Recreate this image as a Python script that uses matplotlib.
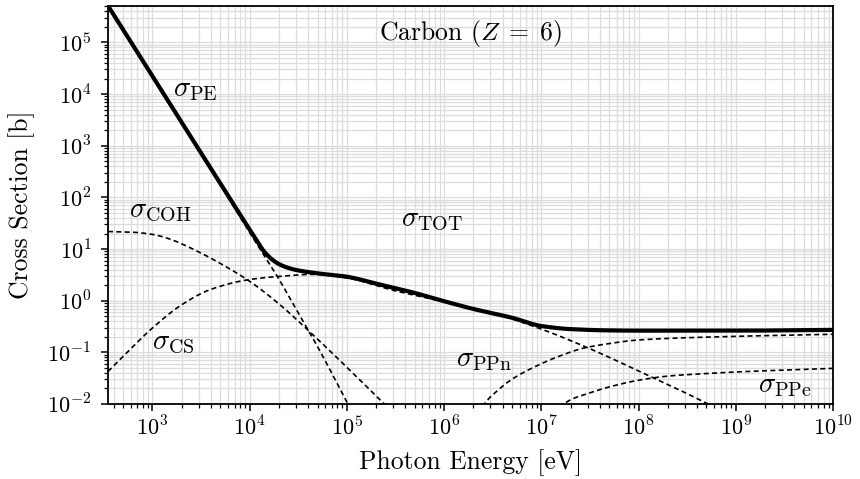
import matplotlib
matplotlib.use('Agg')
import matplotlib.pyplot as plt
import matplotlib.ticker as mticker
import numpy as np

plt.rcParams['font.family'] = 'serif'
plt.rcParams['font.serif'] = ['cmr10']
plt.rcParams['mathtext.fontset'] = 'cm'
plt.rcParams['axes.formatter.use_mathtext'] = True

#----------------------------------------------------------------------|
# Cross sections for carbon (log10 of barns)

# photoelectric
E_pe = [3.5e2, 1e3, 3e3, 1e4, 1.5e4, 2e4, 3e4, 5e4, 1e5, 1.3e5]
lg_pe = [5.71, 4.35, 2.92, 1.32, 0.80, 0.42, -0.16, -0.89, -1.96, -2.37]

# coherent (Rayleigh)
E_coh = [3.5e2, 6e2, 1e3, 1.5e3, 2e3, 3e3, 5e3, 1e4, 2e4, 4e4, 1e5, 2.4e5, 3e5]
lg_coh = [1.34, 1.328, 1.284, 1.196, 1.102, 0.944, 0.722, 0.376, -0.06, -0.572,
          -1.288, -1.99, -2.17]

# incoherent (Compton)
E_cs = [3.5e2, 6.3e2, 1e3, 2e3, 4e3, 1e4, 2e4, 4.5e4, 1e5, 3e5, 1e6, 3.16e6,
        1e7, 3.16e7, 1e8, 3.16e8, 6.3e8]
lg_cs = [-1.37, -0.89, -0.53, -0.08, 0.22, 0.41, 0.47, 0.51, 0.44, 0.20,
         -0.02, -0.24, -0.55, -0.93, -1.36, -1.80, -2.08]

# pair production, nuclear field
E_ppn = [2.0e6, 2.6e6, 3.5e6, 5e6, 1e7, 1.5e7, 2.7e7, 5e7, 1e8, 1e9, 1e10]
lg_ppn = [-2.5, -2.0, -1.75, -1.52, -1.22, -1.08, -0.92, -0.83, -0.76, -0.69, -0.65]

# pair production, electron field
E_ppe = [1.6e7, 1.8e7, 3e7, 5e7, 1e8, 2e8, 5e8, 1e9, 1e10]
lg_ppe = [-2.1, -1.97, -1.80, -1.67, -1.54, -1.46, -1.41, -1.38, -1.31]

# total
E_tot = [3.5e2, 1e3, 3e3, 1e4, 1.2e4, 1.4e4, 1.7e4, 2e4, 2.5e4, 3e4, 5e4, 1e5,
         2e5, 5e5, 1e6, 2e6, 5e6, 1e7, 2e7, 5e7, 1e8, 1e9, 1e10]
lg_tot = [5.71, 4.35, 2.93, 1.38, 1.15, 0.96, 0.80, 0.71, 0.635, 0.595, 0.53, 0.465,
          0.33, 0.15, -0.01, -0.16, -0.33, -0.49, -0.55, -0.575, -0.58, -0.58, -0.565]

# labelled decades
xdec = [3, 4, 5, 6, 7, 8, 9, 10]
ydec = [-2, -1, 0, 1, 2, 3, 4, 5]

#----------------------------------------------------------------------|
def pchip(x, y, xx):
    # monotone cubic (Fritsch-Carlson) through the read points
    x = np.asarray(x, float); y = np.asarray(y, float)
    h = np.diff(x); d = np.diff(y) / h
    m = np.zeros_like(y)
    m[0], m[-1] = d[0], d[-1]
    for k in range(1, len(x) - 1):
        if d[k-1] * d[k] > 0:
            w1 = 2*h[k] + h[k-1]
            w2 = h[k] + 2*h[k-1]
            m[k] = (w1 + w2) / (w1/d[k-1] + w2/d[k])
    i = np.clip(np.searchsorted(x, xx) - 1, 0, len(x) - 2)
    t = (xx - x[i]) / h[i]
    h00 = 2*t**3 - 3*t**2 + 1
    h10 = t**3 - 2*t**2 + t
    h01 = -2*t**3 + 3*t**2
    h11 = t**3 - t**2
    return h00*y[i] + h10*h[i]*m[i] + h01*y[i+1] + h11*h[i]*m[i+1]

def smooth(E, lg, n=600):
    lx = np.log10(E)
    xx = np.linspace(lx[0], lx[-1], n)
    return 10**xx, 10**pchip(lx, lg, xx)

fig = plt.figure(figsize=(8.6, 4.79), dpi=100)
ax = fig.add_axes([0.1256, 0.1566, 0.843, 0.831])

dash = dict(color='k', lw=1.2, ls=(0, (3, 2)))
for E, lg in [(E_pe, lg_pe), (E_coh, lg_coh), (E_cs, lg_cs),
              (E_ppn, lg_ppn), (E_ppe, lg_ppe)]:
    ax.plot(*smooth(E, lg), **dash)
ax.plot(*smooth(E_tot, lg_tot), color='k', lw=3, solid_capstyle='butt')

ax.set_xscale('log')
ax.set_yscale('log')
ax.set_xlim(3.5e2, 1e10)
ax.set_ylim(1e-2, 5.1e5)

for axis, dec in ((ax.xaxis, xdec), (ax.yaxis, ydec)):
    axis.set_major_locator(mticker.FixedLocator([10.0**d for d in dec]))
    axis.set_major_formatter(mticker.FixedFormatter([r'$10^{%d}$' % d for d in dec]))
    axis.set_minor_locator(mticker.LogLocator(base=10, subs=np.arange(2, 10), numticks=300))
    axis.set_minor_formatter(mticker.NullFormatter())

ax.grid(True, which='both', color='#dcdcdc', lw=0.9)
ax.set_axisbelow(True)
ax.tick_params(which='major', direction='out', length=5, width=1.1, labelsize=16)
ax.tick_params(axis='y', which='major', pad=7)
ax.tick_params(which='minor', direction='out', length=2.8, width=0.9)
for s in ax.spines.values():
    s.set_linewidth(1.3)

ax.set_xlabel('Photon Energy [eV]', fontsize=18.5, labelpad=7)
ax.set_ylabel('Cross Section [b]', fontsize=18.5, labelpad=9)

lab = dict(transform=ax.transAxes, ha='center', va='center', fontsize=20.5)
ax.text(0.500, 0.932, r'Carbon $(Z\;=\;6)$', transform=ax.transAxes,
        ha='center', va='center', fontsize=18.5)
ax.text(0.121, 0.789, r'$\sigma_{\rm PE}$', **lab)
ax.text(0.072, 0.485, r'$\sigma_{\rm COH}$', **lab)
ax.text(0.447, 0.462, r'$\sigma_{\rm TOT}$', **lab)
ax.text(0.090, 0.153, r'$\sigma_{\rm CS}$', **lab)
ax.text(0.519, 0.111, r'$\sigma_{\rm PPn}$', **lab)
ax.text(0.934, 0.045, r'$\sigma_{\rm PPe}$', **lab)

fig.savefig('out.png', dpi=100)
